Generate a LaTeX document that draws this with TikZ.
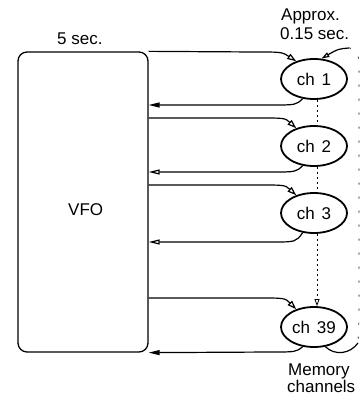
\documentclass[tikz,border=0pt]{standalone}
\usepackage{fontspec}
\setmainfont{Liberation Sans}
\usetikzlibrary{arrows.meta,shapes.geometric}
\begin{document}
\begin{tikzpicture}[x=1pt,y=-1pt,
  txt/.style={font=\fontsize{17}{19}\selectfont, inner sep=0pt},
  chan/.style={ellipse, draw, line width=1.8pt, minimum width=66pt, minimum height=40pt, inner sep=0pt, font=\fontsize{17}{19}\selectfont},
  fwd/.style={line width=1.2pt, -{Triangle[open,length=9pt,width=6pt]}},
  backf/.style={line width=1.2pt, -{Triangle[length=11pt,width=5pt]}},
  backo/.style={line width=1.2pt, -{Triangle[open,length=11pt,width=5pt]}},
  seq/.style={line width=0.8pt, dash pattern=on 2pt off 3pt},
  loopline/.style={line width=1.2pt},
  loopdash/.style={line width=0.7pt, dash pattern=on 2pt off 12pt},
]
\useasboundingbox (0,0) rectangle (361,395);

% VFO box
\node[draw, rounded corners=9pt, line width=1.3pt, minimum width=130pt, minimum height=300pt, inner sep=0pt] (vfo) at (83,202) {};
\node[txt, anchor=base west] (vfolbl) at (68,215) {VFO};
\node[txt, anchor=base west] (fivesec) at (57,45) {5 sec.};

% memory channels
\node[chan] (c1) at (314,79) {ch\hspace{0.4em}1};
\node[chan] (c2) at (314,146) {ch\hspace{0.4em}2};
\node[chan] (c3) at (314,213) {ch\hspace{0.4em}3};
\node[chan] (c39) at (314,327) {ch\hspace{0.4em}39};

\node[txt, anchor=base west] (appr) at (281,21) {Approx.};
\node[txt, anchor=base west] (apprt) at (280,40) {0.15 sec.};
\node[txt, anchor=base west] (mem) at (288,375) {Memory};
\node[txt, anchor=base west] (memch) at (287,392) {channels};

% forward arrows (VFO -> channel)
\draw[fwd] (vfo.north east) -- (255,52) .. controls (282,52) .. (c1.135);
\draw[fwd] (vfo.east |- 0,118) -- (258,118) .. controls (285,118) .. (c2.135);
\draw[fwd] (vfo.east |- 0,185) -- (258,185) .. controls (285,185) .. (c3.135);
\draw[fwd] (vfo.east |- 0,298) -- (258,298) .. controls (285,298) .. (c39.135);

% return arrows (channel -> VFO)
\draw[backf] (c1.240) .. controls (296,105) .. (272,105) -- (vfo.east |- 0,105);
\draw[backo] (c2.240) .. controls (296,172) .. (272,172) -- (vfo.east |- 0,172);
\draw[backo] (c3.240) .. controls (296,242) .. (272,242) -- (vfo.east |- 0,242);
\draw[backf] (c39.240) .. controls (296,352) .. (272,352) -- (vfo.south east);

% sequence (dotted)
\draw[seq] ([xshift=3pt]c1.south) -- ([xshift=3pt]c2.north);
\draw[seq] ([xshift=3pt]c2.south) -- ([xshift=3pt]c3.north);
\draw[seq, -{Triangle[open,length=7pt,width=5pt]}] ([xshift=3pt]c3.south) -- ([xshift=3pt]c39.north);

% wrap-around loop ch39 -> ch1
\coordinate (ltop) at (349,48);
\coordinate (lbot) at (358,343);
\draw[loopline, -{Triangle[open,length=8pt,width=5pt]}] (ltop) .. controls (338,49) .. (c1.70);
\draw[loopline] (c39.300) .. controls (335,356) and (350,354) .. (lbot);
\draw[loopdash] (ltop) .. controls (358,48) and (359,56) .. (359,70) -- (359,320) .. controls (359,332) .. (lbot);
\end{tikzpicture}
\end{document}
